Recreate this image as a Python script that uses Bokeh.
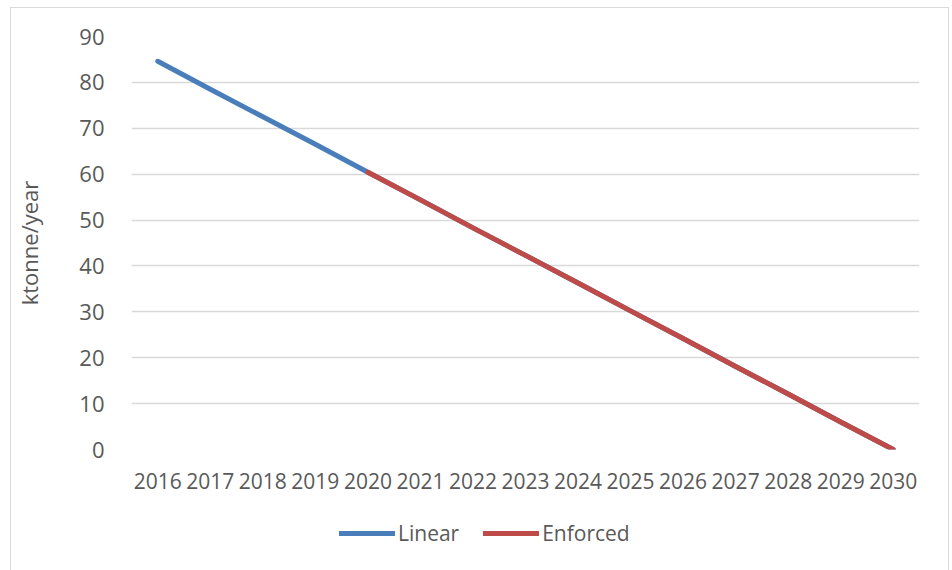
from bokeh.plotting import figure
from bokeh.layouts import column
from bokeh.models import Range1d, FixedTicker, Legend, LegendItem
from bokeh.embed import file_html
from bokeh.resources import INLINE

years = [2016, 2017, 2018, 2019, 2020, 2021, 2022, 2023, 2024, 2025, 2026, 2027, 2028, 2029, 2030]
linear = [84.6, 78.5, 72.5, 66.5, 60.4, 54.4, 48.3, 42.3, 36.3, 30.2, 24.2, 18.1, 12.1, 6.0, 0.0]
enforced_years = [2020, 2021, 2022, 2023, 2024, 2025, 2026, 2027, 2028, 2029, 2030]
enforced = [60.4, 54.4, 48.3, 42.3, 36.3, 30.2, 24.2, 18.1, 12.1, 6.0, 0.0]
y_ticks = [0, 10, 20, 30, 40, 50, 60, 70, 80, 90]
series_names = ["Linear", "Enforced"]
series_colors = ["#4A7EBB", "#BE4B48"]

FONT = "Open Sans"
TXT = "#595959"
GRID = "#d9d9d9"
FS = "22px"

p = figure(width=937, height=496, output_backend="svg", toolbar_location=None,
           x_range=Range1d(2015.5, 2030.5), y_range=Range1d(0, 90),
           min_border_left=120, min_border_right=29, min_border_top=28, min_border_bottom=55)
p.outline_line_color = None

p.line(years, linear, line_color=series_colors[0], line_width=5, line_cap="round", line_join="round")
p.line(enforced_years, enforced, line_color=series_colors[1], line_width=5, line_cap="round", line_join="round")

p.xaxis.ticker = FixedTicker(ticks=years)
p.xaxis.axis_line_color = None
p.xaxis.major_tick_line_color = None
p.xaxis.minor_tick_line_color = None
p.xaxis.major_label_text_font = FONT
p.xaxis.major_label_text_font_size = "21px"
p.xaxis.major_label_text_color = TXT
p.xaxis.major_label_standoff = 17

p.yaxis.ticker = FixedTicker(ticks=y_ticks)
p.yaxis.axis_line_color = None
p.yaxis.major_tick_line_color = None
p.yaxis.minor_tick_line_color = None
p.yaxis.major_label_text_font = FONT
p.yaxis.major_label_text_font_size = FS
p.yaxis.major_label_text_color = TXT
p.yaxis.major_label_standoff = 21
p.yaxis.axis_label = "ktonne/year"
p.yaxis.axis_label_text_font = FONT
p.yaxis.axis_label_text_font_size = FS
p.yaxis.axis_label_text_font_style = "normal"
p.yaxis.axis_label_text_color = TXT
p.yaxis.axis_label_standoff = 32

p.xgrid.grid_line_color = None
p.ygrid.grid_line_color = GRID
p.ygrid.grid_line_width = 1.5

# legend strip underneath the chart (series redrawn out of view, only for swatches)
p2 = figure(width=937, height=66, output_backend="svg", toolbar_location=None,
            x_range=Range1d(0, 1), y_range=Range1d(0, 1),
            x_axis_type=None, y_axis_type=None, min_border=0)
p2.outline_line_color = None
p2.xgrid.grid_line_color = None
p2.ygrid.grid_line_color = None
r1 = p2.line(years, linear, line_color=series_colors[0], line_width=5, line_cap="round")
r2 = p2.line(enforced_years, enforced, line_color=series_colors[1], line_width=5, line_cap="round")
legend = Legend(items=[LegendItem(label=series_names[0], renderers=[r1]),
                       LegendItem(label=series_names[1], renderers=[r2])],
                orientation="horizontal", location=(208, 23),
                label_text_font=FONT, label_text_font_size="21px", label_text_color=TXT,
                glyph_width=56, glyph_height=22, label_standoff=3, spacing=24,
                border_line_color=None, background_fill_alpha=0, padding=0, margin=0)
p2.add_layout(legend)

layout = column(p, p2, spacing=0)
layout.styles = {"margin-left": "10px", "margin-top": "7px", "border": "1px solid #d9d9d9"}

open("out.html", "w").write(file_html(layout, INLINE))
